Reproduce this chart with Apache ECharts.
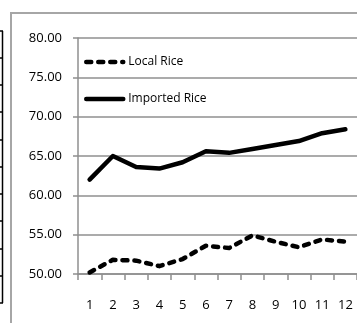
<!DOCTYPE html>
<html>
<head>
<meta charset="utf-8">
<script src="https://cdn.jsdelivr.net/npm/echarts@6/dist/echarts.min.js"></script>
<style>
html,body{margin:0;padding:0;background:#fff;}
#c{width:357px;height:323px;}
</style>
</head>
<body>
<div id="c"></div>
<script>
const categories = ['1','2','3','4','5','6','7','8','9','10','11','12'];
const localRice = [50.2, 51.8, 51.7, 51.0, 51.9, 53.6, 53.3, 54.9, 54.1, 53.4, 54.4, 54.1];
const importedRice = [62.0, 65.0, 63.6, 63.4, 64.2, 65.6, 65.4, 65.9, 66.4, 66.9, 67.9, 68.4];
const seriesNames = ['Local Rice', 'Imported Rice'];
const yMin = 50, yMax = 80, yStep = 5;

const chart = echarts.init(document.getElementById('c'), null, {renderer: 'canvas'});
const font = '"Open Sans", "Liberation Sans", sans-serif';

const dashStyle = {color: '#000', width: 4.5, type: [5, 7], cap: 'round', join: 'round'};
const solidStyle = {color: '#000', width: 4.5, type: 'solid', cap: 'round', join: 'round'};

const tableLines = [];
const tableYs = [31, 58, 85, 112, 140, 167, 194, 221, 249, 276, 303];
tableYs.forEach(function (y) {
  tableLines.push({type: 'line', shape: {x1: 0, y1: y, x2: 3, y2: y}, style: {stroke: '#000', lineWidth: 1.5}, silent: true});
});
tableLines.push({type: 'line', shape: {x1: 2.5, y1: 31, x2: 2.5, y2: 303}, style: {stroke: '#000', lineWidth: 1.5}, silent: true});

chart.setOption({
  backgroundColor: '#fff',
  animation: false,
  graphic: tableLines.concat([
    {type: 'rect', shape: {x: 11, y: 13, width: 420, height: 420}, style: {fill: 'none', stroke: '#a6a6a6', lineWidth: 2}, silent: true}
  ]),
  legend: {
    orient: 'vertical',
    left: 84,
    top: 56,
    padding: 0,
    itemWidth: 37,
    itemHeight: 14,
    itemGap: 25,
    textStyle: {fontFamily: font, fontSize: 12, color: '#000'},
    data: [
      {name: seriesNames[0], itemStyle: {opacity: 0}, lineStyle: dashStyle},
      {name: seriesNames[1], itemStyle: {opacity: 0}, lineStyle: solidStyle}
    ]
  },
  grid: {left: 78, top: 38, width: 287, height: 236, containLabel: false},
  xAxis: {
    type: 'category',
    data: categories,
    boundaryGap: true,
    axisLine: {lineStyle: {color: '#8f8f8f', width: 1.5}},
    axisTick: {show: true, length: 6, lineStyle: {color: '#8f8f8f', width: 1.5}},
    axisLabel: {fontFamily: font, fontSize: 13, color: '#000', margin: 25, interval: 0}
  },
  yAxis: {
    type: 'value',
    min: yMin, max: yMax, interval: yStep,
    axisLine: {show: true, lineStyle: {color: '#8f8f8f', width: 1.5}},
    axisTick: {show: true, length: 5, lineStyle: {color: '#8f8f8f', width: 1.5}},
    splitLine: {show: true, lineStyle: {color: '#8f8f8f', width: 1.5}},
    axisLabel: {fontFamily: font, fontSize: 13, color: '#000', margin: 16, formatter: function (v) { return v.toFixed(2); }}
  },
  series: [
    {
      name: seriesNames[0], type: 'line', data: localRice,
      symbol: 'none', smooth: false, color: '#000',
      lineStyle: dashStyle
    },
    {
      name: seriesNames[1], type: 'line', data: importedRice,
      symbol: 'none', smooth: false, color: '#000',
      lineStyle: solidStyle
    }
  ]
});
</script>
</body>
</html>
